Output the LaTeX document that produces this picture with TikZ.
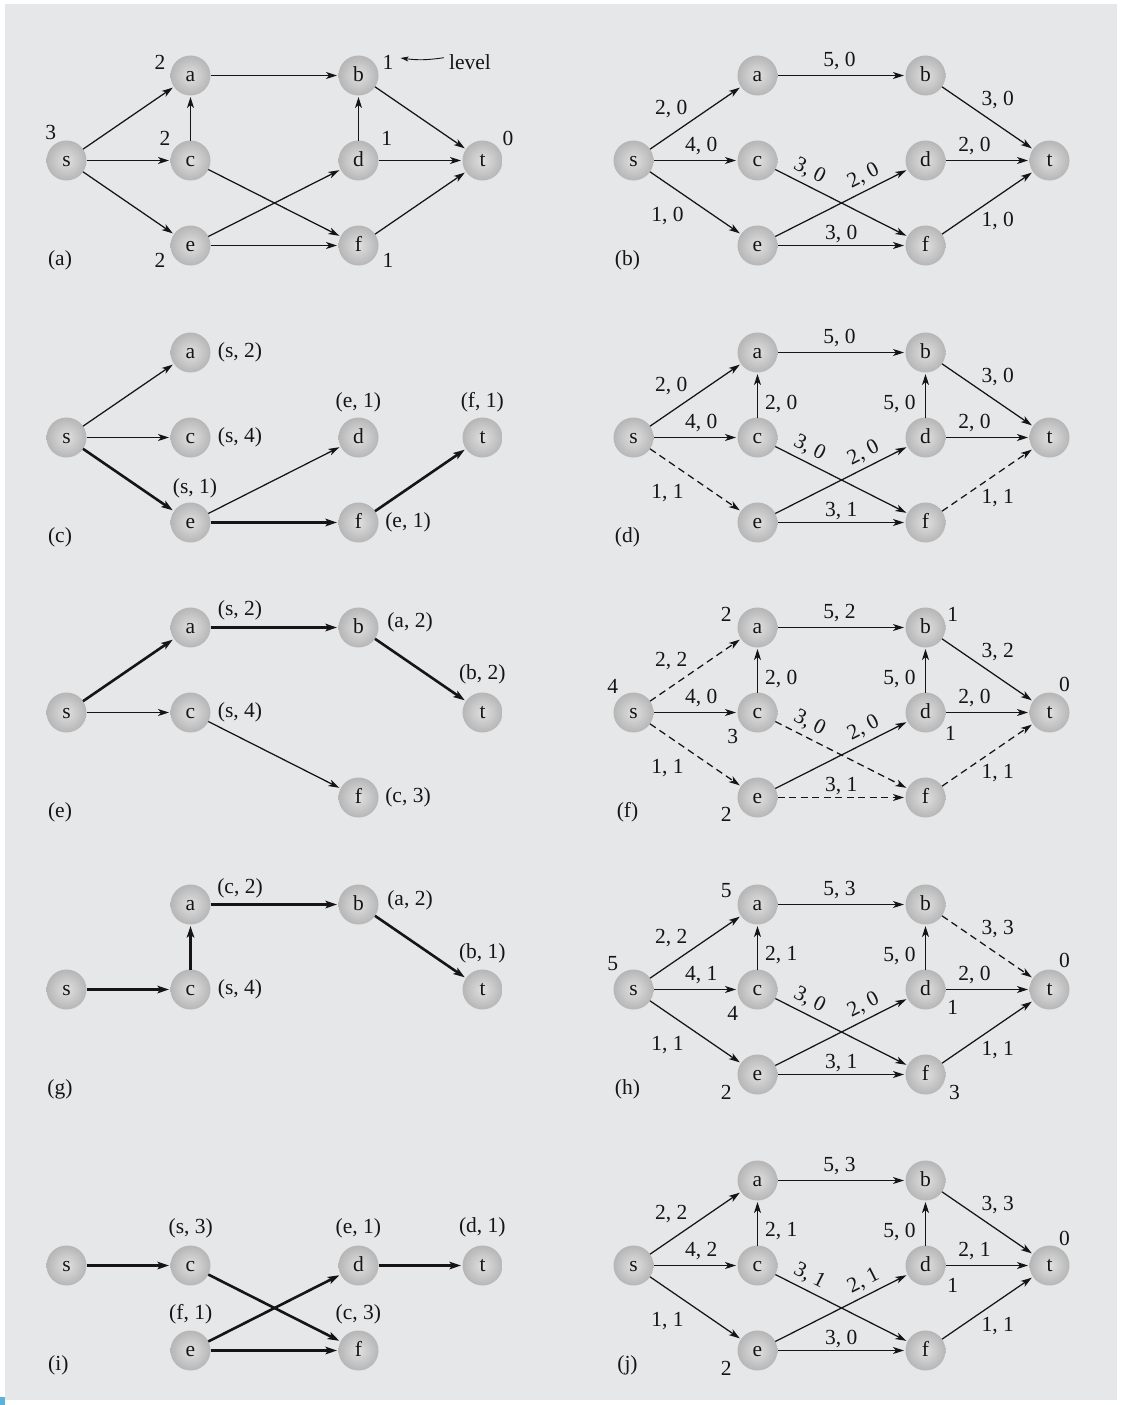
\documentclass[tikz,border=0pt]{standalone}
\usepackage{fontspec}
\setmainfont{Liberation Serif}
\usetikzlibrary{arrows.meta}
\definecolor{bg}{RGB}{230,231,232}
\definecolor{ink}{RGB}{22,20,20}
\definecolor{nin}{RGB}{224,224,224}
\definecolor{nout}{RGB}{182,182,182}
\definecolor{cornermark}{RGB}{92,178,219}
\tikzset{
 vx/.style={circle, minimum size=40pt, inner sep=0pt, outer sep=0pt, inner color=nin, outer color=nout, text=ink, font=\fontsize{21.5}{23}\selectfont, text height=11.5pt, text depth=0pt},
 ar/.style={draw=ink, line width=1.25pt, -{Stealth[length=11pt,width=7pt,inset=3pt]}, shorten >=1.5pt},
 thk/.style={line width=2.6pt, -{Stealth[length=11.5pt,width=7.5pt,inset=2.5pt]}},
 dsh/.style={dash pattern=on 7pt off 4.5pt},
 lb/.style={inner sep=0pt, text=ink, font=\fontsize{21.5}{23}\selectfont},
}
\def\vxXs{66.5}\def\vxYs{0}
\def\vxXa{190.5}\def\vxYa{-85}
\def\vxXc{190.5}\def\vxYc{0}
\def\vxXe{190.5}\def\vxYe{85}
\def\vxXb{358.5}\def\vxYb{-85}
\def\vxXd{358.5}\def\vxYd{0}
\def\vxXf{358.5}\def\vxYf{85}
\def\vxXt{482.5}\def\vxYt{0}
\newcommand\vtx[2]{\node[vx] (#1#2) at (\csname vxX#2\endcsname,\csname vxY#2\endcsname) {#2};}
\newcommand\edg[4][]{\draw[ar,#1] (#2#3) -- (#2#4);}
\newcounter{labc}
\newcommand\lab[4][]{\stepcounter{labc}\node[lb,#1] (lab\arabic{labc}) at (#2,#3) {#4};}
\begin{document}
\begin{tikzpicture}[x=1pt,y=-1pt]
\useasboundingbox (0,0) rectangle (1120,1405);
\fill[bg] (5,4) rectangle (1117,1400);
\fill[cornermark] (0,1397) rectangle (5,1405);

% ---------- (a)
\begin{scope}[shift={(0,160.5)}]
\foreach \n in {s,a,c,e,b,d,f,t}{\vtx{A}{\n}}
\edg{A}{s}{a}\edg{A}{s}{c}\edg{A}{s}{e}\edg{A}{c}{a}\edg{A}{a}{b}\edg{A}{c}{f}
\edg{A}{e}{d}\edg{A}{e}{f}\edg{A}{d}{b}\edg{A}{d}{t}\edg{A}{b}{t}\edg{A}{f}{t}
\lab{160}{-98}{2}
\node[lb] (Aone) at (388,-98) {1};
\node[lb] (Alevel) at (470,-98.3) {level};
\draw[ink, line width=0.9pt, -{Stealth[length=8pt,width=5pt,inset=2pt]}] ([xshift=-5pt,yshift=4.5pt]Alevel.west) to[bend left=8] ([xshift=7pt,yshift=4.5pt]Aone.east);
\lab{50.7}{-28}{3}
\lab{165}{-22}{2}
\lab{386.7}{-22}{1}
\lab{508}{-22}{0}
\lab{160}{100}{2}
\lab{388}{100}{1}
\lab{60}{100}{(a)}
\end{scope}

% ---------- (b)
\begin{scope}[shift={(567,160.5)}]
\foreach \n in {s,a,c,e,b,d,f,t}{\vtx{B}{\n}}
\edg{B}{s}{a}\edg{B}{s}{c}\edg{B}{s}{e}\edg{B}{a}{b}\edg{B}{c}{f}
\edg{B}{e}{d}\edg{B}{e}{f}\edg{B}{d}{t}\edg{B}{b}{t}\edg{B}{f}{t}
\lab{272.5}{-99.5}{5, 0}
\lab{430.8}{-60.5}{3, 0}
\lab{104.2}{-51}{2, 0}
\lab{134.2}{-14.5}{4, 0}
\lab{407.5}{-14.5}{2, 0}
\lab[rotate=-26.9]{242.5}{10.5}{3, 0}
\lab[rotate=26.9]{296.5}{15.5}{2, 0}
\lab{100.5}{55.5}{1, 0}
\lab{274.2}{73.5}{3, 0}
\lab{430.8}{60.3}{1, 0}
\lab{60.5}{100}{(b)}
\end{scope}

% ---------- (c)
\begin{scope}[shift={(0,437.5)}]
\foreach \n in {s,a,c,e,d,f,t}{\vtx{C}{\n}}
\edg{C}{s}{a}\edg{C}{s}{c}\edg[thk]{C}{s}{e}\edg{C}{e}{d}\edg[thk]{C}{e}{f}\edg[thk]{C}{f}{t}
\lab{240}{-85}{(s, 2)}
\lab{240}{0}{(s, 4)}
\lab{358.3}{-35}{(e, 1)}
\lab{482.3}{-35}{(f, 1)}
\lab{195}{51.3}{(s, 1)}
\lab{408}{85}{(e, 1)}
\lab{60}{100}{(c)}
\end{scope}

% ---------- (d)
\begin{scope}[shift={(567,437.5)}]
\foreach \n in {s,a,c,e,b,d,f,t}{\vtx{D}{\n}}
\edg{D}{s}{a}\edg{D}{s}{c}\edg[dsh]{D}{s}{e}\edg{D}{c}{a}\edg{D}{a}{b}\edg{D}{c}{f}
\edg{D}{e}{d}\edg{D}{e}{f}\edg{D}{d}{b}\edg{D}{d}{t}\edg{D}{b}{t}\edg[dsh]{D}{f}{t}
\lab{272.5}{-99.5}{5, 0}
\lab{430.8}{-60.5}{3, 0}
\lab{104.2}{-51}{2, 0}
\lab{214.2}{-34}{2, 0}
\lab{332.5}{-34}{5, 0}
\lab{134.2}{-14.5}{4, 0}
\lab{407.5}{-14.5}{2, 0}
\lab[rotate=-26.9]{242.5}{10.5}{3, 0}
\lab[rotate=26.9]{296.5}{15.5}{2, 0}
\lab{100.5}{55.5}{1, 1}
\lab{274.2}{73.5}{3, 1}
\lab{430.8}{60.3}{1, 1}
\lab{60.5}{100}{(d)}
\end{scope}

% ---------- (e)
\begin{scope}[shift={(0,712.5)}]
\foreach \n in {s,a,b,c,f,t}{\vtx{E}{\n}}
\edg[thk]{E}{s}{a}\edg[thk]{E}{a}{b}\edg[thk]{E}{b}{t}\edg{E}{s}{c}\edg{E}{c}{f}
\lab{240}{-102}{(s, 2)}
\lab{410}{-89.7}{(a, 2)}
\lab{482.3}{-37.7}{(b, 2)}
\lab{240}{0}{(s, 4)}
\lab{408}{84.6}{(c, 3)}
\lab{60}{100}{(e)}
\end{scope}

% ---------- (f)
\begin{scope}[shift={(567,712.5)}]
\foreach \n in {s,a,c,e,b,d,f,t}{\vtx{F}{\n}}
\edg[dsh]{F}{s}{a}\edg{F}{s}{c}\edg[dsh]{F}{s}{e}\edg{F}{c}{a}\edg{F}{a}{b}\edg[dsh]{F}{c}{f}
\edg{F}{e}{d}\edg[dsh]{F}{e}{f}\edg{F}{d}{b}\edg{F}{d}{t}\edg{F}{b}{t}\edg[dsh]{F}{f}{t}
\lab{159.2}{-97.7}{2}
\lab{385.8}{-97.7}{1}
\lab{45.8}{-26}{4}
\lab{497.5}{-27.7}{0}
\lab{165.8}{24}{3}
\lab{383.5}{21}{1}
\lab{159.2}{102.3}{2}
\lab{272.5}{-99.5}{5, 2}
\lab{430.8}{-60.5}{3, 2}
\lab{104.2}{-51}{2, 2}
\lab{214.2}{-34}{2, 0}
\lab{332.5}{-34}{5, 0}
\lab{134.2}{-14.5}{4, 0}
\lab{407.5}{-14.5}{2, 0}
\lab[rotate=-26.9]{242.5}{10.5}{3, 0}
\lab[rotate=26.9]{296.5}{15.5}{2, 0}
\lab{100.5}{55.5}{1, 1}
\lab{274.2}{73.5}{3, 1}
\lab{430.8}{60.3}{1, 1}
\lab{60.5}{100}{(f)}
\end{scope}

% ---------- (g)
\begin{scope}[shift={(0,989.5)}]
\foreach \n in {s,a,b,c,t}{\vtx{G}{\n}}
\edg[thk]{G}{s}{c}\edg[thk]{G}{c}{a}\edg[thk]{G}{a}{b}\edg[thk]{G}{b}{t}
\lab{240}{-101.3}{(c, 2)}
\lab{410}{-89}{(a, 2)}
\lab{482.3}{-36.3}{(b, 1)}
\lab{240}{0}{(s, 4)}
\lab{60}{100}{(g)}
\end{scope}

% ---------- (h)
\begin{scope}[shift={(567,989.5)}]
\foreach \n in {s,a,c,e,b,d,f,t}{\vtx{H}{\n}}
\edg{H}{s}{a}\edg{H}{s}{c}\edg{H}{s}{e}\edg{H}{c}{a}\edg{H}{a}{b}\edg{H}{c}{f}
\edg{H}{e}{d}\edg{H}{e}{f}\edg{H}{d}{b}\edg{H}{d}{t}\edg[dsh]{H}{b}{t}\edg{H}{f}{t}
\lab{159.2}{-99}{5}
\lab{45.8}{-25.7}{5}
\lab{497.5}{-29}{0}
\lab{165.8}{24.3}{4}
\lab{385.8}{17.7}{1}
\lab{159.2}{102.7}{2}
\lab{387.5}{102.7}{3}
\lab{272.5}{-99.5}{5, 3}
\lab{430.8}{-60.5}{3, 3}
\lab{104.2}{-51}{2, 2}
\lab{214.2}{-34}{2, 1}
\lab{332.5}{-34}{5, 0}
\lab{134.2}{-14.5}{4, 1}
\lab{407.5}{-14.5}{2, 0}
\lab[rotate=-26.9]{242.5}{10.5}{3, 0}
\lab[rotate=26.9]{296.5}{15.5}{2, 0}
\lab{100.5}{55.5}{1, 1}
\lab{274.2}{73.5}{3, 1}
\lab{430.8}{60.3}{1, 1}
\lab{60.5}{100}{(h)}
\end{scope}

% ---------- (i)
\begin{scope}[shift={(0,1265.5)}]
\foreach \n in {s,c,e,d,f,t}{\vtx{I}{\n}}
\edg[thk]{I}{s}{c}\edg[thk]{I}{c}{f}\edg[thk]{I}{e}{d}\edg[thk]{I}{e}{f}\edg[thk]{I}{d}{t}
\lab{190.7}{-36.7}{(s, 3)}
\lab{358.3}{-36.7}{(e, 1)}
\lab{482.3}{-38.3}{(d, 1)}
\lab{190.7}{49}{(f, 1)}
\lab{358.3}{49}{(c, 3)}
\lab{58.3}{100}{(i)}
\end{scope}

% ---------- (j)
\begin{scope}[shift={(567,1265.5)}]
\foreach \n in {s,a,c,e,b,d,f,t}{\vtx{J}{\n}}
\edg{J}{s}{a}\edg{J}{s}{c}\edg{J}{s}{e}\edg{J}{c}{a}\edg{J}{a}{b}\edg{J}{c}{f}
\edg{J}{e}{d}\edg{J}{e}{f}\edg{J}{d}{b}\edg{J}{d}{t}\edg{J}{b}{t}\edg{J}{f}{t}
\lab{497.5}{-26.7}{0}
\lab{385.8}{20}{1}
\lab{159.2}{103.3}{2}
\lab{272.5}{-99.5}{5, 3}
\lab{430.8}{-60.5}{3, 3}
\lab{104.2}{-51}{2, 2}
\lab{214.2}{-34}{2, 1}
\lab{332.5}{-34}{5, 0}
\lab{134.2}{-14.5}{4, 2}
\lab{407.5}{-14.5}{2, 1}
\lab[rotate=-26.9]{242.5}{10.5}{3, 1}
\lab[rotate=26.9]{296.5}{15.5}{2, 1}
\lab{100.5}{55.5}{1, 1}
\lab{274.2}{73.5}{3, 0}
\lab{430.8}{60.3}{1, 1}
\lab{60.5}{100}{(j)}
\end{scope}
\end{tikzpicture}
\end{document}
